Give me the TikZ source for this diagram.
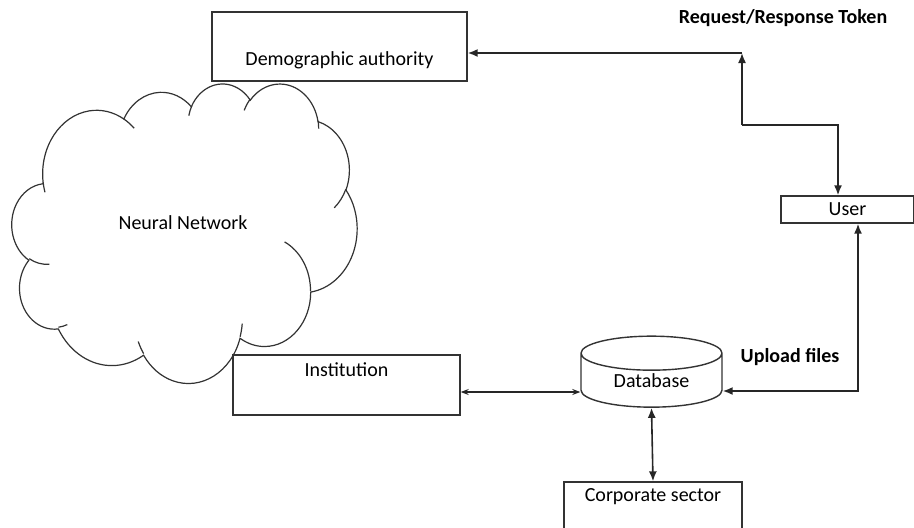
\documentclass[tikz,border=0pt]{standalone}
\usepackage{fontspec}
\setmainfont{Carlito}
\usetikzlibrary{shapes.geometric,arrows.meta}
\begin{document}
\begin{tikzpicture}
     [x=0.5pt, y=0.5pt,
     font=\fontsize{10}{12}\selectfont,
     declare function={pa(\a,\w,\h)=atan2(sin(\a)/\h,cos(\a)/\w);},
     box/.style={rectangle, draw=black!80, line width=0.7pt, fill=white},
     cyl/.style={cylinder, shape border rotate=90, draw=black!80, line width=0.7pt, fill=white, aspect=0.45},
     puff/.style={draw=black!80, line width=0.6pt},
     tag/.style={font=\fontsize{10}{12}\selectfont\bfseries},
     link/.style={line width=0.8pt, black!85},
     ]
 \useasboundingbox (0,0) rectangle (914,-527);
 % cloud outline
 \begin{scope}[shift={(12,-83)}, x=0.3993pt, y=0.3461pt]
 \draw[puff, fill=white] (39,-143.7)
   \foreach \w/\h/\s/\d in {67.53/91.90/190.487/-123.781, 53.33/72.67/144.102/-89.945,
     43.65/59.45/145.808/-99.723, 48.57/65.95/130.986/-117.242, 53.33/72.73/78.709/-109.027,
     67.75/92.20/46.267/-130.269, 57.85/78.67/-0.625/-114.033, 67.52/92.15/-22.452/-115.173,
     77.20/105.43/-66.243/-75.711, 43.60/59.18/274.942/-146.736, 43.45/59.45/246.829/-152.519}
   { arc[x radius=\w, y radius=\h, start angle={pa(\s,\w,\h)}, delta angle={Mod(pa(\s+\d,\w,\h)-pa(\s,\w,\h),360)-360}] } -- cycle;
 \draw[puff]
   \foreach \px/\py/\w/\h/\s/\d in {46.93/-261.77/43.45/59.45/-86.742/-26.430, 69.28/-348.99/43.60/59.18/-73.610/-11.447,
     164.78/-390.90/67.52/92.15/-137.624/-14.081, 288.27/-347.51/67.52/92.15/-6.453/-15.998,
     341.29/-229.54/57.85/78.67/70.292/-70.917, 417.98/-153.54/53.33/72.73/-30.318/-27.752,
     383.24/-54.26/48.57/65.95/13.744/-14.859, 290.78/-39.52/48.57/65.95/149.181/-18.195,
     221.41/-47.20/43.65/59.45/163.494/-17.686, 140.00/-51.92/67.53/91.90/66.707/-12.319,
     41.27/-157.89/67.53/91.90/-157.654/-11.858}
   { (\px,\py) arc[x radius=\w, y radius=\h, start angle={pa(\s,\w,\h)}, delta angle={Mod(pa(\s+\d,\w,\h)-pa(\s,\w,\h),360)-360}] };
 \end{scope}
 \node at (183,-223) (nn) {Neural Network};
 \node at (339.5,-46.5) [box, minimum width=127.5pt, minimum height=34.5pt, label={[yshift=-6.75pt]center:Demographic authority}] (demo) {};
 \node at (847.5,-209.5) [box, minimum width=66.5pt, minimum height=13.5pt, inner sep=0pt] (user) {User};
 \node at (346.5,-385) [box, minimum width=113.5pt, minimum height=30pt, label={[yshift=7.5pt]center:Institution}] (inst) {};
 \node at (651.5,-380.5) [cyl, minimum width=70.5pt, minimum height=35.5pt, inner sep=0pt] (db) {Database};
 \node at (653,-512) [box, minimum width=89pt, minimum height=30pt, label={[yshift=7.5pt]center:Corporate sector}] (corp) {};
 \node at (783,-18) [tag] (req) {Request/Response Token};
 \node at (790,-357) [tag] (upl) {Upload files};
 \coordinate (bend1) at (742,-53);
 \coordinate (bend2) at (742,-125);
 \coordinate (bend3) at (838,-125);
 % request / response path
 \draw[link, -{Latex[length=5pt,width=4pt]}] (bend1) -- (demo.east |- bend1);
 \draw[link, -{Latex[length=5pt,width=4pt]}] (bend2) -- (bend1);
 \draw[link, -{Latex[length=5pt,width=4pt]}] (bend2) -- (bend3) -- (user.north -| bend3);
 % uploads
 \draw[link, {Latex[length=5pt,width=4pt]}-{Latex[length=5pt,width=4pt]}] ([xshift=5.25pt]user.south) |- ([yshift=-5.25pt]db.east);
 \draw[link, line width=0.6pt, {Stealth[length=4pt,width=3pt]}-{Stealth[length=4pt,width=3pt]}] ([yshift=-3.5pt]inst.east) -- ([yshift=-3.5pt]inst.east -| db.west);
 \draw[link, {Latex[length=5pt,width=4pt]}-{Latex[length=5pt,width=4pt]}] (db.south) -- (corp.north);
 \end{tikzpicture}
\end{document}
